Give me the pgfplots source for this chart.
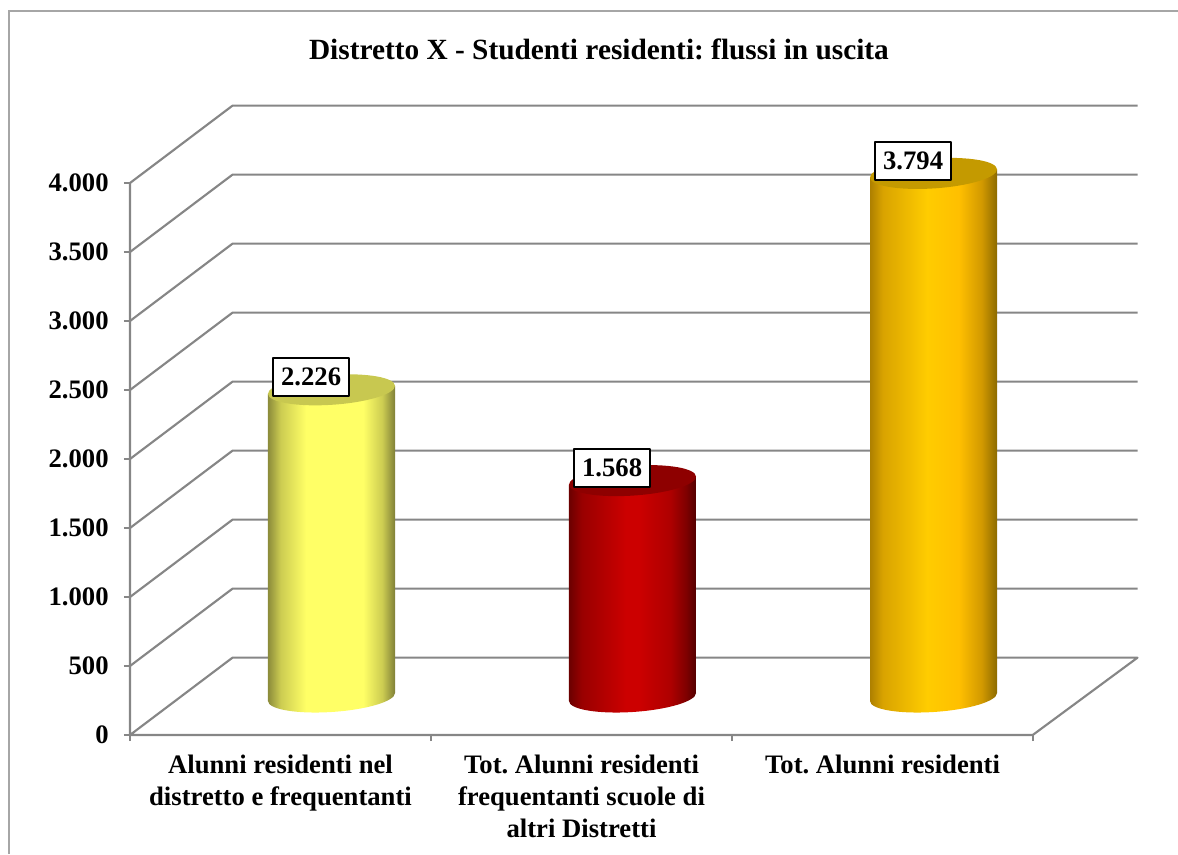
\documentclass[border=0pt]{standalone}
\usepackage{pgfplots}
\pgfplotsset{compat=1.18}
\usepackage{fontspec}
\setmainfont{Liberation Serif}
\definecolor{gridc}{HTML}{868686}
\definecolor{framec}{HTML}{A6A6A6}
\definecolor{capY}{HTML}{C8C850}
\definecolor{capR}{HTML}{8E0000}
\definecolor{capG}{HTML}{C49A00}
\pgfdeclarehorizontalshading{yshade}{100bp}{
 rgb(0bp)=(0.55,0.55,0.23); rgb(25bp)=(0.55,0.55,0.23); rgb(30bp)=(0.80,0.80,0.32); rgb(40bp)=(1,1,0.40);
 rgb(62.5bp)=(1,1,0.40); rgb(70bp)=(0.80,0.80,0.32); rgb(75bp)=(0.50,0.50,0.22); rgb(100bp)=(0.50,0.50,0.22)}
\pgfdeclarehorizontalshading{rshade}{100bp}{
 rgb(0bp)=(0.42,0,0); rgb(25bp)=(0.42,0,0); rgb(30bp)=(0.60,0,0); rgb(47.5bp)=(0.80,0,0); rgb(52.5bp)=(0.80,0,0);
 rgb(65bp)=(0.68,0,0); rgb(71bp)=(0.50,0,0); rgb(75bp)=(0.33,0,0); rgb(100bp)=(0.33,0,0)}
\pgfdeclarehorizontalshading{gshade}{100bp}{
 rgb(0bp)=(0.68,0.50,0); rgb(25bp)=(0.68,0.50,0); rgb(30bp)=(0.85,0.64,0); rgb(47.5bp)=(1,0.80,0);
 rgb(60bp)=(1,0.75,0); rgb(69bp)=(0.82,0.60,0); rgb(75bp)=(0.55,0.42,0); rgb(100bp)=(0.55,0.42,0)}
\newcommand{\cylpath}{\pgfpathellipse{\pgfpointorigin}{\pgfqpoint{47.625pt}{3pt}}{\pgfqpoint{0pt}{11.25pt}}}
\pgfdeclareplotmark{capY}{\pgfsetfillcolor{capY}\cylpath\pgfusepath{fill}}
\pgfdeclareplotmark{capR}{\pgfsetfillcolor{capR}\cylpath\pgfusepath{fill}}
\pgfdeclareplotmark{capG}{\pgfsetfillcolor{capG}\cylpath\pgfusepath{fill}}
\pgfdeclareplotmark{baseY}{\cylpath\pgfshadepath{yshade}{0}\pgfusepath{discard}}
\pgfdeclareplotmark{baseR}{\cylpath\pgfshadepath{rshade}{0}\pgfusepath{discard}}
\pgfdeclareplotmark{baseG}{\cylpath\pgfshadepath{gshade}{0}\pgfusepath{discard}}
\newcommand{\chartfont}{\fontsize{20}{23.8}\selectfont\bfseries\frenchspacing}
\begin{document}
\begin{tikzpicture}
\useasboundingbox (0,0) rectangle (883.5pt,640.5pt);
\draw[framec,line width=1.5pt] (6.5pt,0) -- (6.5pt,632.5pt) -- (883.5pt,632.5pt);
\begin{axis}[
  at={(97.5pt,89.25pt)}, anchor=south west,
  scale only axis, width=755.625pt, height=472.875pt,
  clip=false,
  xmin=0.3306, xmax=3.6777, ymin=-275.36, ymax=4293.5,
  axis x line*=bottom, axis y line*=left,
  axis line style={draw=none},
  tick align=outside, major tick length=4.5pt,
  tick style={draw=gridc,line width=1.2pt},
  tick label style={font=\chartfont},
  yticklabel style={xshift=-8pt},
  ytick={-275.36,224.64,724.64,1224.64,1724.64,2224.64,2724.64,3224.64,3724.64},
  yticklabels={0,500,1.000,1.500,2.000,2.500,3.000,3.500,4.000},
  xtick={0.3306,1.3306,2.3306,3.3296},
  xticklabels={,,,,},
  extra x ticks={0.8306,1.8306,2.8306},
  extra x tick labels={{Alunni residenti nel\\distretto e frequentanti},{Tot. Alunni residenti\\frequentanti scuole di\\altri Distretti},{Tot. Alunni residenti}},
  extra x tick style={major tick length=0pt,
    xticklabel style={anchor=north,align=center,font=\chartfont,yshift=-11.5pt}},
  title={Distretto X - Studenti residenti: flussi in uscita},
  title style={at={(axis description cs:0.4655,1.0755)},anchor=center,font={\fontsize{22}{26}\selectfont\bfseries\frenchspacing}},
  every axis plot/.append style={line join=round},
]
% walls and floor: front point, back point, right end of the back wall
\addplot[gridc,line width=1.6pt] coordinates {(0.3306,-275.36)(0.6711,285)(3.6777,285)(3.3296,-275.36)(0.3306,-275.36)(0.3306,3724.64)};
\addplot[gridc,line width=1.6pt] coordinates {(0.3306,224.64)(0.6711,785)(3.6777,785)};
\addplot[gridc,line width=1.6pt] coordinates {(0.3306,724.64)(0.6711,1285)(3.6777,1285)};
\addplot[gridc,line width=1.6pt] coordinates {(0.3306,1224.64)(0.6711,1785)(3.6777,1785)};
\addplot[gridc,line width=1.6pt] coordinates {(0.3306,1724.64)(0.6711,2285)(3.6777,2285)};
\addplot[gridc,line width=1.6pt] coordinates {(0.3306,2224.64)(0.6711,2785)(3.6777,2785)};
\addplot[gridc,line width=1.6pt] coordinates {(0.3306,2724.64)(0.6711,3285)(3.6777,3285)};
\addplot[gridc,line width=1.6pt] coordinates {(0.3306,3224.64)(0.6711,3785)(3.6777,3785)};
\addplot[gridc,line width=1.6pt] coordinates {(0.3306,3724.64)(0.6711,4285)(3.6777,4285)};
% cylinders
\addplot[only marks,mark=baseY] coordinates {(1,0)};
\addplot[draw=none,shading=yshade] coordinates {(0.789,-29)(1.211,29)(1.211,2255)(0.789,2197)(0.789,-29)};
\addplot[only marks,mark=capY] coordinates {(1,2226)};
\addplot[only marks,mark=baseR] coordinates {(2,0)};
\addplot[draw=none,shading=rshade] coordinates {(1.789,-29)(2.211,29)(2.211,1597)(1.789,1539)(1.789,-29)};
\addplot[only marks,mark=capR] coordinates {(2,1568)};
\addplot[only marks,mark=baseG] coordinates {(3,0)};
\addplot[draw=none,shading=gshade] coordinates {(2.789,-29)(3.211,29)(3.211,3823)(2.789,3765)(2.789,-29)};
\addplot[only marks,mark=capG] coordinates {(3,3794)};
% value labels
\addplot[draw=none,mark=none,
  nodes near coords={\pgfmathprintnumber[assume math mode=true,1000 sep={.}]{\pgfplotspointmeta}},
  every node near coord/.append style={anchor=center,xshift=-15.3pt,yshift=9.6pt,
    fill=white,draw=black,line width=1.5pt,inner sep=0pt,
    minimum width=56.5pt,minimum height=28.5pt,font=\chartfont}]
  coordinates {(1,2226)(2,1568)(3,3794)};
\end{axis}
\end{tikzpicture}
\end{document}
